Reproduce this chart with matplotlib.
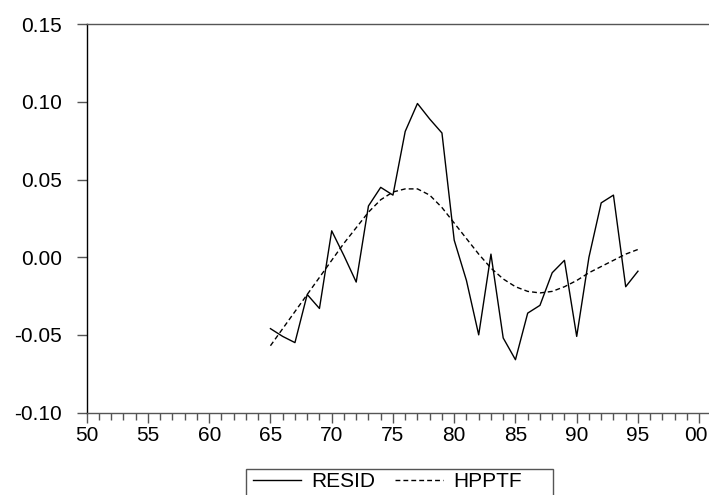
import matplotlib
matplotlib.use("Agg")
import matplotlib.pyplot as plt
import matplotlib.transforms as mtransforms
from matplotlib.patches import Rectangle
import numpy as np

plt.rcParams['font.family'] = ['Liberation Sans', 'DejaVu Sans']

years = list(range(1965, 1996))
resid = [-0.046, -0.051, -0.055, -0.024, -0.033, 0.017, 0.001, -0.016, 0.033, 0.045,
         0.040, 0.081, 0.099, 0.089, 0.080, 0.011, -0.015, -0.050, 0.002, -0.052,
         -0.066, -0.036, -0.031, -0.010, -0.002, -0.051, 0.000, 0.035, 0.040, -0.019,
         -0.009]
hpptf = [-0.057, -0.046, -0.035, -0.024, -0.013, -0.002, 0.009, 0.019, 0.029, 0.037,
         0.042, 0.044, 0.044, 0.040, 0.032, 0.022, 0.012, 0.002, -0.007, -0.014,
         -0.019, -0.022, -0.023, -0.022, -0.019, -0.015, -0.010, -0.006, -0.002, 0.002,
         0.005]
xtick_years = list(range(1950, 2001, 5))
xtick_labels = ['50', '55', '60', '65', '70', '75', '80', '85', '90', '95', '00']
ytick_vals = [-0.10, -0.05, 0.00, 0.05, 0.10, 0.15]
ytick_labels = ['-0.10', '-0.05', '0.00', '0.05', '0.10', '0.15']

W, H = 709, 495
fig = plt.figure(figsize=(7.09, 4.95), dpi=100)
ax = fig.add_axes([86.7/W, (H-412.5)/H, (W-86.7)/W, (412.5-24.3)/H])

ax.plot(years, resid, color='black', lw=1.0, label='RESID')
ax.plot(years, hpptf, color='black', lw=1.0, linestyle=(0, (3.5, 2.2)), label='HPPTF')

ax.set_xlim(1950, 2000.8)
ax.set_ylim(-0.10, 0.15)
ax.set_xticks(xtick_years)
ax.set_xticklabels(xtick_labels, fontsize=15)
ax.set_xticks(range(1950, 2001), minor=True)
ax.set_yticks(ytick_vals)
ax.set_yticklabels(ytick_labels, fontsize=15)

ax.spines['right'].set_visible(False)
ax.spines['left'].set_color('black')
ax.spines['top'].set_color('#555555')
ax.spines['bottom'].set_color('#555555')
for s in ax.spines.values():
    s.set_linewidth(1.0)

ax.tick_params(axis='x', which='major', direction='out', length=7.5, width=1, color='#555555', pad=2.0)
ax.tick_params(axis='x', which='minor', direction='out', length=4.8, width=1, color='#555555')
ax.tick_params(axis='y', which='major', direction='out', length=7.2, width=1, color='#555555', pad=10.5)

# nudge the last x label so it stays inside the figure (as in reference)
last = ax.get_xticklabels()[-1]
last.set_transform(last.get_transform() + mtransforms.ScaledTranslation(-3.5/100, 0, fig.dpi_scale_trans))

leg = ax.legend(loc='upper left', bbox_to_anchor=(253/W, 1-472/H), bbox_transform=fig.transFigure,
                ncol=2, fontsize=15, frameon=False, handlelength=2.3,
                handletextpad=0.5, columnspacing=0.95, borderpad=0.0, borderaxespad=0)

fig.patches.append(Rectangle((246/W, -0.05), (552.7-246)/W, (H-469)/H + 0.05,
                             transform=fig.transFigure, fill=False, edgecolor='#555555',
                             linewidth=1.0, figure=fig))

fig.savefig('out.png', dpi=100)
